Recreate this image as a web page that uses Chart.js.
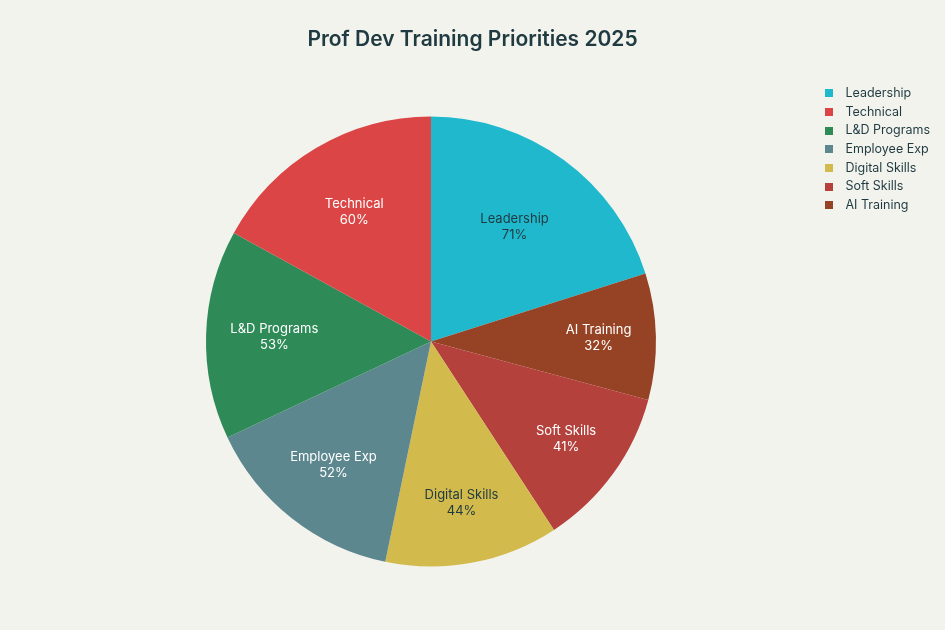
<!DOCTYPE html>
<html>
<head>
<meta charset="utf-8">
<script src="https://cdn.jsdelivr.net/npm/chart.js@4.4.1/dist/chart.umd.min.js"></script>
<style>
  html, body { margin: 0; padding: 0; background: #f3f3ee; }
  #wrap { width: 945px; height: 630px; }
</style>
</head>
<body>
<div id="wrap"><canvas id="pie"></canvas></div>
<script>
// legend order
const categories = ['Leadership', 'Technical', 'L&D Programs', 'Employee Exp', 'Digital Skills', 'Soft Skills', 'AI Training'];
const values = [71, 60, 53, 52, 44, 41, 32];
const colors = ['#1FB8CD', '#DB4545', '#2E8B57', '#5D878F', '#D2BA4C', '#B4413C', '#964325'];

// slices are drawn clockwise from the top in this order
const drawOrder = [0, 6, 5, 4, 3, 2, 1];

const labels = drawOrder.map(i => categories[i]);
const data = drawOrder.map(i => values[i]);
const bg = drawOrder.map(i => colors[i]);

const FONT = 'Inter, "DejaVu Sans", sans-serif';

function isLight(hex) {
  const r = parseInt(hex.slice(1, 3), 16), g = parseInt(hex.slice(3, 5), 16), b = parseInt(hex.slice(5, 7), 16);
  return 0.299 * r + 0.587 * g + 0.114 * b > 130;
}

// small square swatch for the legend
function swatch(color) {
  const c = document.createElement('canvas');
  c.width = 8;
  c.height = 8;
  const g = c.getContext('2d');
  g.fillStyle = color;
  g.fillRect(0, 0, 8, 8);
  return c;
}

// text inside the slices
const sliceLabels = {
  id: 'sliceLabels',
  afterLayout(chart) {
    // center the title over the whole canvas
    if (chart.titleBlock) {
      chart.titleBlock.left = 0;
      chart.titleBlock.right = chart.width;
      chart.titleBlock.width = chart.width;
    }
  },
  afterDatasetsDraw(chart) {
    const ctx = chart.ctx;
    const meta = chart.getDatasetMeta(0);
    ctx.save();
    ctx.font = '13px ' + FONT;
    ctx.textAlign = 'center';
    ctx.textBaseline = 'middle';
    meta.data.forEach((arc, i) => {
      const p = arc.getProps(['x', 'y', 'startAngle', 'endAngle', 'outerRadius'], true);
      const mid = (p.startAngle + p.endAngle) / 2;
      const deg = (p.endAngle - p.startAngle) * 180 / Math.PI;
      const frac = Math.min(0.745, 0.73 - (deg - 45) * 0.0037);
      const r = p.outerRadius * frac;
      const x = p.x + Math.cos(mid) * r;
      const y = p.y + Math.sin(mid) * r;
      ctx.fillStyle = isLight(bg[i]) ? '#1f3a40' : '#ffffff';
      ctx.fillText(labels[i], x, y - 8);
      ctx.fillText(data[i] + '%', x, y + 8);
    });
    ctx.restore();
  }
};

new Chart(document.getElementById('pie'), {
  type: 'pie',
  data: {
    labels: labels,
    datasets: [{
      data: data,
      backgroundColor: bg,
      borderWidth: 0,
      hoverOffset: 0,
      radius: 225
    }]
  },
  options: {
    responsive: true,
    maintainAspectRatio: false,
    animation: false,
    layout: { padding: { left: 49, right: 5, top: 0, bottom: 27.7 } },
    plugins: {
      title: {
        display: true,
        text: 'Prof Dev Training Priorities 2025',
        color: '#1f3a40',
        font: { family: FONT, size: 21, weight: '600' },
        padding: { top: 27, bottom: 28.5 }
      },
      legend: {
        position: 'right',
        align: 'start',
        fullSize: false,
        labels: {
          color: '#1f3a40',
          font: { family: FONT, size: 12.5 },
          usePointStyle: true,
          pointStyleWidth: 20,
          boxHeight: 8,
          padding: 6.2,
          generateLabels: (chart) => Chart.overrides.pie.plugins.legend.labels.generateLabels(chart)
            .map(item => Object.assign(item, { pointStyle: swatch(item.fillStyle) })),
          sort: (a, b) => drawOrder[a.index] - drawOrder[b.index]
        }
      },
      tooltip: { enabled: false }
    }
  },
  plugins: [sliceLabels]
});
</script>
</body>
</html>
